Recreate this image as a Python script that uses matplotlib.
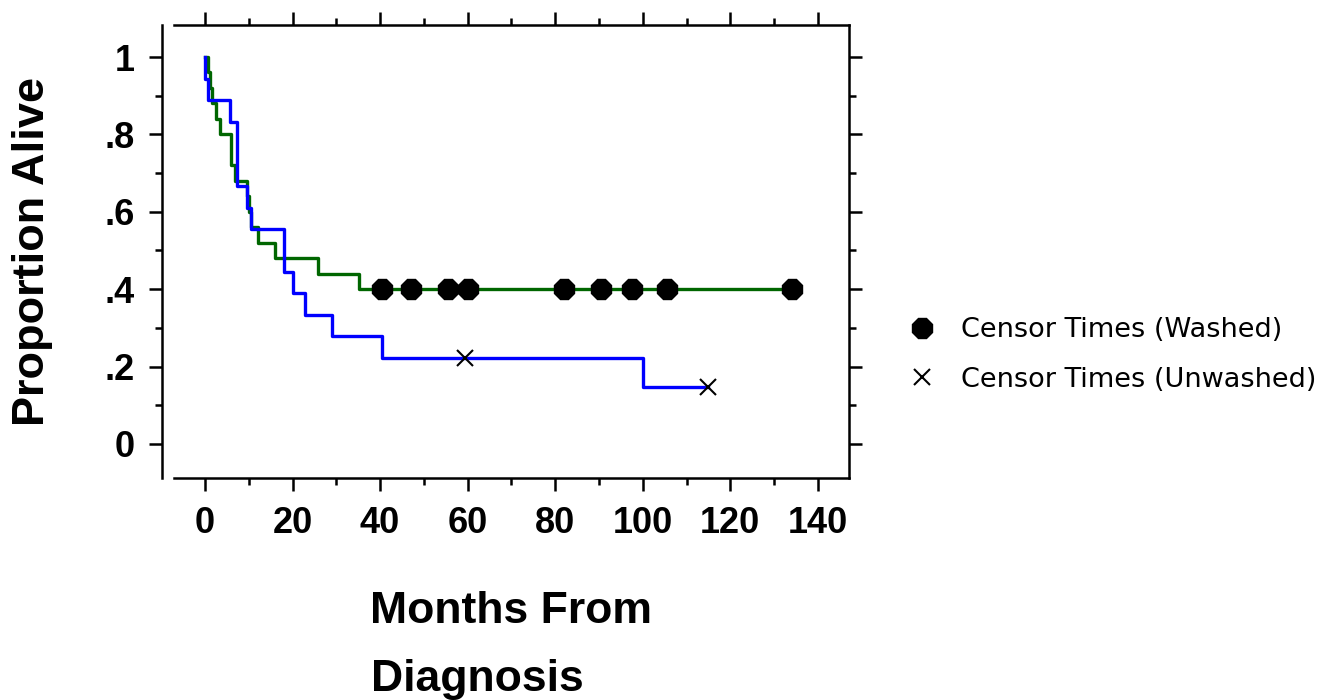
import matplotlib
matplotlib.use("Agg")
import matplotlib.pyplot as plt
from matplotlib.ticker import MultipleLocator, FixedLocator, FixedFormatter

# ---- data ----
washed_times = [0, 0.7, 1.1, 1.6, 2.6, 3.4, 5.9, 6.8, 9.6, 10.0, 10.4, 12.1, 16.0, 25.8, 35.2, 134.0]
washed_surv = [1.0, 0.96, 0.92, 0.88, 0.84, 0.80, 0.72, 0.68, 0.64, 0.60, 0.56, 0.52, 0.48, 0.44, 0.40, 0.40]

unwashed_times = [0, 0.1, 0.7, 5.8, 7.3, 9.6, 10.6, 18.0, 20.0, 22.8, 29.0, 40.5, 100.0, 115.0]
unwashed_surv = [1.0, 0.944, 0.889, 0.833, 0.667, 0.611, 0.556, 0.444, 0.389, 0.333, 0.278, 0.222, 0.148, 0.148]

washed_censor_t = [40.5, 47.0, 55.5, 60.0, 82.0, 90.5, 97.5, 105.5, 134.0]
washed_censor_s = [0.40, 0.40, 0.40, 0.40, 0.40, 0.40, 0.40, 0.40, 0.40]

unwashed_censor_t = [59.5, 115.0]
unwashed_censor_s = [0.222, 0.148]

x_ticks = [0, 20, 40, 60, 80, 100, 120, 140]
x_ticklabels = ["0", "20", "40", "60", "80", "100", "120", "140"]
y_ticks = [0, 0.2, 0.4, 0.6, 0.8, 1.0]
y_ticklabels = ["0", ".2", ".4", ".6", ".8", "1"]

legend_labels = ["Censor Times (Washed)", "Censor Times (Unwashed)"]
x_label = "Months From\nDiagnosis"
y_label = "Proportion Alive"

plt.rcParams["font.family"] = ["Liberation Sans", "DejaVu Sans"]
plt.rcParams["font.weight"] = "bold"

# ---- figure ----
W, H = 1323, 700
fig = plt.figure(figsize=(W / 100, H / 100), dpi=100)
ax = fig.add_axes([174 / W, 1 - 478 / H, (849 - 174) / W, (478 - 25) / H])

ax.step(washed_times, washed_surv, where="post", color="#006600", lw=2.4, zorder=2)
ax.step(unwashed_times, unwashed_surv, where="post", color="#0000ff", lw=2.4, zorder=3)
h1, = ax.plot(washed_censor_t, washed_censor_s, linestyle="none", marker="8",
              markersize=16, color="black", zorder=4)
h2, = ax.plot(unwashed_censor_t, unwashed_censor_s, linestyle="none", marker="x",
              markersize=12, markeredgewidth=1.5, color="black", zorder=4)

ax.set_xlim(-7.08, 147.1)
ax.set_ylim(-0.0879, 1.0827)

ax.xaxis.set_major_locator(FixedLocator(x_ticks))
ax.xaxis.set_major_formatter(FixedFormatter(x_ticklabels))
ax.xaxis.set_minor_locator(MultipleLocator(10))
ax.yaxis.set_major_locator(FixedLocator(y_ticks))
ax.yaxis.set_major_formatter(FixedFormatter(y_ticklabels))
ax.yaxis.set_minor_locator(MultipleLocator(0.1))

ax.tick_params(which="both", direction="out", top=True, right=True, width=1.8, color="black")
ax.tick_params(which="major", length=9.4, labelsize=26)
ax.tick_params(axis="x", which="major", pad=11)
ax.tick_params(axis="y", which="major", pad=10)
ax.tick_params(which="minor", length=5)

for s in ax.spines.values():
    s.set_linewidth(1.8)
ax.spines["left"].set_position(("outward", 8.6))

ax.set_ylabel(y_label, fontsize=32.5, va="center", fontweight="bold")
ax.yaxis.set_label_coords(-0.21, 0.5)
ax.set_xlabel(x_label, fontsize=32, ha="center", va="center", multialignment="left",
              linespacing=1.85, fontweight="bold")
ax.xaxis.set_label_coords(0.5, -0.37)

fig.legend([h1, h2], legend_labels, loc="center left",
           bbox_to_anchor=(895 / W, 1 - 355 / H), frameon=False,
           prop=dict(family="DejaVu Sans", size=19.5, weight="normal"), handlelength=1.0,
           handletextpad=0.95, labelspacing=0.85, borderpad=0, markerscale=0.95)

fig.savefig("out.png", dpi=100, facecolor="white")
